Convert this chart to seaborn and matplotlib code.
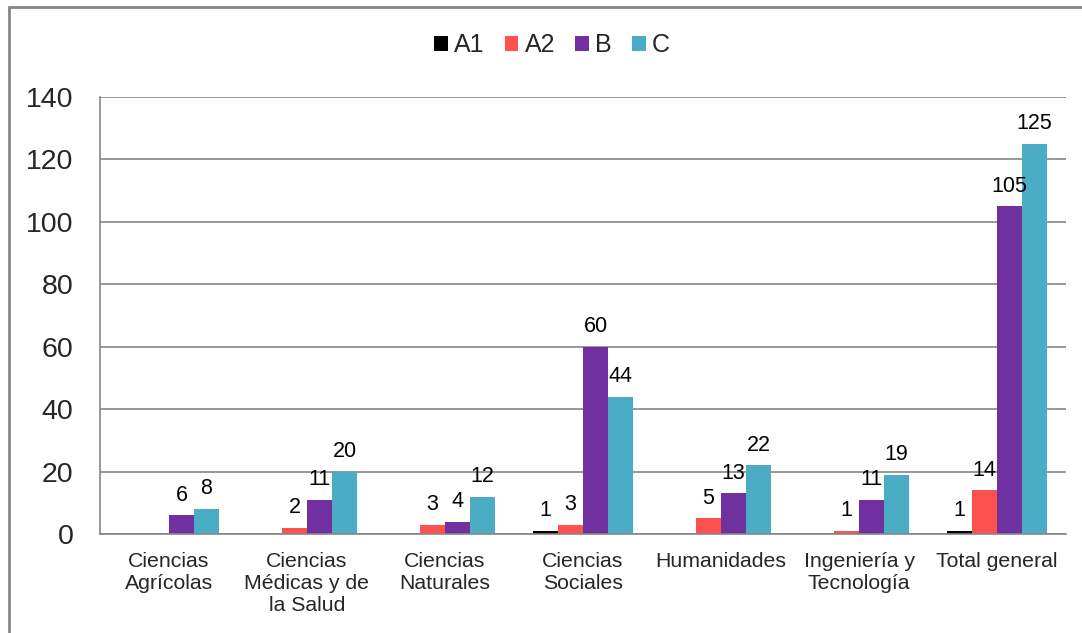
import numpy as np
import pandas as pd
import matplotlib
matplotlib.use("Agg")
import matplotlib.pyplot as plt
import seaborn as sns
from matplotlib.patches import Patch, Rectangle

sns.set_theme(style="white")
plt.rcParams['font.family'] = ['Liberation Sans', 'DejaVu Sans']

# ---- data (NaN = no bar) ----
categories = ["Ciencias\nAgrícolas", "Ciencias\nMédicas y de\nla Salud", "Ciencias\nNaturales",
              "Ciencias\nSociales", "Humanidades", "Ingeniería y\nTecnología", "Total general"]
series = ["A1", "A2", "B", "C"]
a1 = [np.nan, np.nan, np.nan, 1, np.nan, np.nan, 1]
a2 = [np.nan, 2, 3, 3, 5, 1, 14]
b = [6, 11, 4, 60, 13, 11, 105]
c = [8, 20, 12, 44, 22, 19, 125]
colors = ["#000000", "#FF5050", "#7030A0", "#4BACC6"]
y_ticks = [0, 20, 40, 60, 80, 100, 120, 140]

df = pd.DataFrame({"Categoria": categories, "A1": a1, "A2": a2, "B": b, "C": c})
long_df = df.melt(id_vars="Categoria", var_name="Serie", value_name="Valor").dropna()

fig = plt.figure(figsize=(10.82, 6.33), dpi=100)
ax = fig.add_axes([100 / 1082, 99 / 633, 966 / 1082, 437 / 633])

sns.barplot(data=long_df, x="Categoria", y="Valor", hue="Serie", order=categories,
            hue_order=series, palette=colors, width=0.725, gap=0, saturation=1,
            errorbar=None, legend=False, ax=ax, linewidth=0)

# value labels on top of each bar
for cont in ax.containers:
    labels = [f"{int(round(bar.get_height()))}" if bar.get_height() > 0 else "" for bar in cont]
    ax.bar_label(cont, labels=labels, padding=7, fontsize=15.5, color="black")

ax.set_ylim(0, 140)
ax.set_yticks(y_ticks)
ax.set_xlim(-0.5, len(categories) - 0.5)
ax.yaxis.grid(True, color="#868686", linewidth=1.2)
ax.set_axisbelow(True)
ax.tick_params(axis="y", labelsize=20.5, pad=19, length=0)
ax.tick_params(axis="x", labelsize=15.3, pad=13, length=0)
ax.set_xlabel("")
ax.set_ylabel("")
for side in ["top", "right"]:
    ax.spines[side].set_visible(False)
for side in ["left", "bottom"]:
    ax.spines[side].set_color("#868686")
    ax.spines[side].set_linewidth(1.2)

# legend with square markers
handles = [Patch(facecolor=col, edgecolor="none", label=s) for s, col in zip(series, colors)]
fig.legend(handles=handles, loc="center", bbox_to_anchor=(552 / 1082, 1 - 45 / 633), ncol=4,
           frameon=False, fontsize=18, handlelength=0.55, handleheight=0.55,
           handletextpad=0.25, columnspacing=0.8)

# outer chart border
fig.patches.append(Rectangle((8.5 / 1082, -0.1), 1.2, 1 - 6.5 / 633 + 0.1, transform=fig.transFigure,
                             fill=False, edgecolor="#868686", linewidth=2))

fig.savefig("out.png", dpi=100)
